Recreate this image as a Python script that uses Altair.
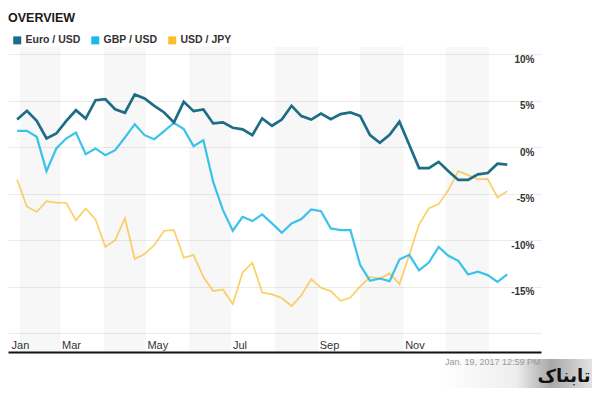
import altair as alt
import pandas as pd

# ---------------- data ----------------
series_names = ["Euro / USD", "GBP / USD", "USD / JPY"]
series_colors = ["#1d6d87", "#1bb9e8", "#fbbd2c"]

# weekly observations from 2016-01-30 to 2017-01-14
dates = pd.date_range("2016-01-30", periods=51, freq="7D").strftime("%Y-%m-%dT00:00:00").tolist()

euro = [3.0, 3.94, 2.87, 0.96, 1.5, 2.83, 4.0, 3.1, 5.08, 5.2,
        4.1, 3.73, 5.7, 5.27, 4.47, 3.76, 2.69, 4.9, 3.9, 4.08,
        2.58, 2.69, 2.11, 1.94, 1.32, 3.12, 2.33, 3.0, 4.48, 3.37,
        3.0, 3.65, 3.04, 3.58, 3.76, 3.37, 1.32, 0.5, 1.35, 2.76,
        0.28, -2.22, -2.22, -1.55, -2.55, -3.5, -3.5, -2.9, -2.76, -1.75,
        -1.84]
gbp = [1.79, 1.79, 1.14, -2.55, -0.11, 0.96, 1.6, -0.72, -0.11, -0.83,
       -0.29, 1.07, 2.5, 1.32, 0.89, 1.75, 2.65, 1.97, 0.14, 0.78,
       -3.7, -6.74, -8.96, -7.46, -7.92, -7.2, -8.17, -9.18, -8.17, -7.71,
       -6.67, -6.85, -8.71, -8.89, -8.89, -12.66, -14.35, -14.1, -14.38, -12.05,
       -11.55, -13.23, -12.38, -10.7, -11.66, -12.19, -13.66, -13.37, -13.73, -14.45,
       -13.66]
jpy = [-3.44, -6.38, -6.92, -5.77, -5.95, -5.95, -7.82, -6.56, -7.74, -10.69,
       -9.97, -7.63, -12.0, -11.47, -10.5, -8.96, -8.89, -11.87, -11.58, -13.91,
       -15.45, -15.27, -16.85, -13.44, -12.4, -15.6, -15.8, -16.2, -17.05, -15.9,
       -14.15, -15.1, -15.45, -16.5, -16.15, -14.95, -13.95, -14.1, -13.55, -14.7,
       -11.58, -8.3, -6.56, -6.1, -4.59, -2.55, -2.98, -3.41, -3.41, -5.38,
       -4.7]

# alternate shaded months
band_start = ["2016-02-01T00:00:00", "2016-04-01T00:00:00", "2016-06-01T00:00:00",
              "2016-08-01T00:00:00", "2016-10-01T00:00:00", "2016-12-01T00:00:00"]
band_end = ["2016-03-01T00:00:00", "2016-05-01T00:00:00", "2016-07-01T00:00:00",
            "2016-09-01T00:00:00", "2016-11-01T00:00:00", "2017-01-01T00:00:00"]

y_ticks = [10, 5, 0, -5, -10, -15, -20]
chart_title = "OVERVIEW"
footer = "Jan. 19, 2017 12:59 PM"
logo_text = "تابناک"

# ---------------- build ----------------
W, H = 533, 305

rows = []
for name, vals in [("USD / JPY", jpy), ("GBP / USD", gbp), ("Euro / USD", euro)]:
    for d, v in zip(dates, vals):
        rows.append({"date": d, "series": name, "value": v})
df = pd.DataFrame(rows)
bands = pd.DataFrame({"start": band_start, "end": band_end})

x_scale = alt.Scale(domain=[alt.DateTime(year=2016, month=1, date=23, hours=12),
                            alt.DateTime(year=2017, month=2, date=7, hours=2)])
y_scale = alt.Scale(domain=[-22, 10.8], nice=False, zero=False)
color_scale = alt.Scale(domain=series_names, range=series_colors)

x_axis = alt.Axis(
    values=[alt.DateTime(year=2016, month=1, date=25), alt.DateTime(year=2016, month=3, date=1),
            alt.DateTime(year=2016, month=5, date=1), alt.DateTime(year=2016, month=7, date=1),
            alt.DateTime(year=2016, month=9, date=1), alt.DateTime(year=2016, month=11, date=1)],
    format="%b", labelAlign="left", labelBaseline="alphabetic", labelPadding=-4,
    labelOffset=1, labelFontSize=11, labelColor="#333333", labelFlush=False,
    labelOverlap=False, ticks=False, grid=False, domainColor="#111111", domainWidth=2,
    title=footer, titleX=W - 1, titleY=9, titleAlign="right", titleBaseline="middle",
    titleFontSize=9, titleFontWeight="normal", titleColor="#999999", zindex=1,
)
y_axis = alt.Axis(
    orient="right", values=y_ticks,
    labelExpr="datum.value == -20 ? '' : datum.value + '%'",
    grid=True, gridColor="#ebebeb", gridWidth=1, domain=False, ticks=False,
    labelAlign="right", labelBaseline="top", labelPadding=-7, labelFontSize=10,
    labelFontWeight="bold", labelColor="#333333", title=None,
)

band_layer = alt.Chart(bands).mark_rect(color="#000000", opacity=0.032).encode(
    x=alt.X("start:T", scale=x_scale, axis=x_axis),
    x2="end:T",
    y=alt.value(0),
    y2=alt.value(H),
)

line_layer = alt.Chart(df).mark_line(interpolate="linear").encode(
    x=alt.X("date:T", scale=x_scale, axis=x_axis),
    y=alt.Y("value:Q", scale=y_scale, axis=y_axis),
    color=alt.Color("series:N", scale=color_scale, legend=None),
    strokeWidth=alt.StrokeWidth("series:N", scale=alt.Scale(domain=series_names, range=[2.7, 1.7, 1.7]),
                                legend=None),
    opacity=alt.Opacity("series:N", scale=alt.Scale(domain=series_names, range=[1.0, 0.72, 0.62]),
                        legend=None),
)

# legend-only layer (no visible marks): square swatches like the reference legend
legend = alt.Legend(
    orient="none", legendX=4, legendY=-12, direction="horizontal", title=None,
    symbolType="square", symbolSize=64, symbolStrokeWidth=0, symbolOpacity=1,
    labelFontSize=10.5, labelFontWeight="bold", labelColor="#333333", labelOffset=3,
    columnPadding=9,
)
legend_layer = alt.Chart(df).transform_filter("datum.value > 1000").mark_square(
    size=64, filled=True, opacity=1
).encode(
    x=alt.X("date:T", scale=x_scale, axis=x_axis),
    y=alt.Y("value:Q", scale=y_scale, axis=y_axis),
    color=alt.Color("series:N", scale=color_scale, legend=legend),
)

logo_bg = alt.Chart(pd.DataFrame({"k": [0]})).mark_rect(
    color=alt.Gradient(gradient="linear", x1=0, x2=1, y1=0, y2=0,
                       stops=[alt.GradientStop(offset=0, color="#ffffff"),
                              alt.GradientStop(offset=0.5, color="#eeeeee"),
                              alt.GradientStop(offset=0.73, color="#a8a8a8"),
                              alt.GradientStop(offset=1, color="#e2e2e2")])
).encode(x=alt.value(432), x2=alt.value(584), y=alt.value(312), y2=alt.value(341))

logo = alt.Chart(pd.DataFrame({"label": [logo_text]})).mark_text(
    font="DejaVu Sans", fontSize=18, fontWeight="bold", color="#111111",
    align="center", baseline="middle"
).encode(text="label:N", x=alt.value(556), y=alt.value(330))

chart = alt.layer(band_layer, line_layer, legend_layer, logo_bg, logo).resolve_legend(
    color="independent"
).properties(
    width=W, height=H,
    title=alt.TitleParams(chart_title, anchor="start", fontSize=12.5, fontWeight="bold",
                          color="#1a1a1a", frame="group", offset=11),
    autosize=alt.AutoSizeParams(type="none"),
    padding={"left": 0, "top": 39, "right": 51, "bottom": 36},
).configure(font="Liberation Sans").configure_view(strokeWidth=0)

chart.save("out.html", embed_options={"renderer": "svg", "actions": False})
